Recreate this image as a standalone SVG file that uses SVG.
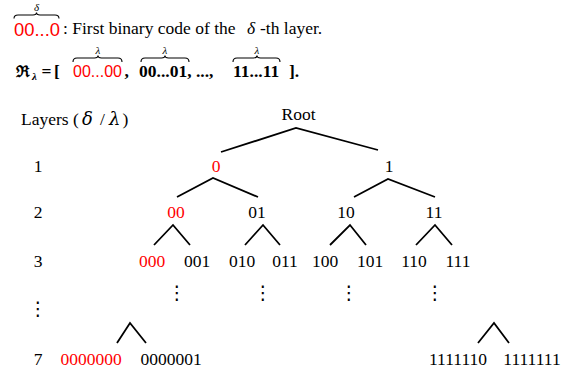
<svg xmlns="http://www.w3.org/2000/svg" width="571" height="372" viewBox="0 0 571 372">
  <style>
    .t { font-family: "Liberation Serif", "Times New Roman", serif; font-size: 17.5px; fill: #000; }
    .c { text-anchor: middle; }
    .red { fill: #ff0000; }
    .sans { font-family: "Liberation Sans", Arial, sans-serif; }
    .it { font-style: italic; }
    .b { font-weight: bold; }
    .sup { font-size: 11px; font-style: italic; text-anchor: middle; }
    .greek { font-family: "DejaVu Serif", serif; font-style: italic; font-size: 18px; }
    .dots { font-family: "DejaVu Sans", sans-serif; font-size: 19px; text-anchor: middle; fill: #000; }
    .edge { fill: none; stroke: #000; stroke-width: 1.8; stroke-linejoin: miter; }
    .brace { fill: none; stroke: #000; stroke-width: 1.1; }
  </style>

  <!-- legend: first code of a layer -->
  <g id="legend-first-code">
    <path class="brace" d="M14,18.5 Q14,15 18,15 L33,15 Q36.5,15 36.5,12.5 Q36.5,15 40,15 L55,15 Q59,15 59,18.5"/>
    <text class="t sup" x="36.5" y="10.5">δ</text>
    <text class="t sans red" x="14" y="36" style="font-size:18px" textLength="46" lengthAdjust="spacingAndGlyphs">00...0</text>
    <text class="t" x="63" y="34">: First binary code of the</text>
    <text class="t it" x="247" y="34">δ</text>
    <text class="t" x="260" y="34">-th layer.</text>
  </g>

  <!-- legend: code set of a layer -->
  <g id="legend-code-set">
    <text class="t b" x="16" y="76.5" style="font-family:'DejaVu Serif', serif; font-size:16px">ℜ</text>
    <text class="t it b" x="32" y="80" style="font-size:11px">λ</text>
    <text class="t b" x="41.5" y="76.5">=</text>
    <text class="t b" x="54" y="76.5">[</text>
    <path class="brace" d="M73,62 Q73,58 77,58 L94.5,58 Q98,58 98,55.5 Q98,58 101.5,58 L118,58 Q122,58 122,62"/>
    <text class="t sup" x="98" y="54">λ</text>
    <text class="t sans red" x="73" y="76.5" style="font-size:16.5px" textLength="49" lengthAdjust="spacingAndGlyphs">00...00</text>
    <text class="t b" x="124.5" y="76.5">,</text>
    <path class="brace" d="M141,62 Q141,58 145,58 L161.5,58 Q165,58 165,55.5 Q165,58 168.5,58 L185,58 Q189,58 189,62"/>
    <text class="t sup" x="165" y="54">λ</text>
    <text class="t b" x="139" y="76.5">00...01, ..., </text>
    <path class="brace" d="M233,62 Q233,58 237,58 L253.5,58 Q257,58 257,55.5 Q257,58 260.5,58 L276,58 Q280,58 280,62"/>
    <text class="t sup" x="257" y="54">λ</text>
    <text class="t b" x="233" y="76.5">11...11</text>
    <text class="t b" x="289" y="76.5">].</text>
  </g>

  <!-- layer index column -->
  <g id="layer-axis">
    <text class="t" x="21" y="125">Layers (</text>
    <text class="greek" x="82" y="125">δ</text>
    <text class="t" x="100" y="125">/</text>
    <text class="greek" x="109" y="125">λ</text>
    <text class="t" x="122.5" y="125">)</text>
    <text class="t c" x="38" y="172">1</text>
    <text class="t c" x="38" y="218">2</text>
    <text class="t c" x="38" y="267">3</text>
    <text class="dots" x="38" y="315">⋮</text>
    <text class="t c" x="38" y="365">7</text>
  </g>

  <!-- tree edges -->
  <g id="connectors">
    <polyline class="edge" points="221,152 296,128 378,150"/>
    <polyline class="edge" points="177,197 213,178 258,197"/>
    <polyline class="edge" points="354,197 388,179 435,197"/>
    <polyline class="edge" points="154,245 173,225 190,245"/>
    <polyline class="edge" points="245,245 263,225 280,245"/>
    <polyline class="edge" points="330,245 350,225 366,245"/>
    <polyline class="edge" points="416,245 435,225 452,245"/>
    <polyline class="edge" points="117,343 130,323 146,343"/>
    <polyline class="edge" points="478,343 494,323 509,343"/>
  </g>

  <!-- tree nodes -->
  <g id="node-root"><text class="t c" x="298.5" y="120">Root</text></g>
  <g id="node-0"><text class="t c red" x="216" y="172">0</text></g>
  <g id="node-1"><text class="t c" x="389" y="172">1</text></g>
  <g id="node-00"><text class="t c red" x="176" y="218">00</text></g>
  <g id="node-01"><text class="t c" x="257" y="218">01</text></g>
  <g id="node-10"><text class="t c" x="346" y="218">10</text></g>
  <g id="node-11"><text class="t c" x="434" y="218">11</text></g>
  <g id="node-000"><text class="t c red" x="152" y="267">000</text></g>
  <g id="node-001"><text class="t c" x="197" y="267">001</text></g>
  <g id="node-010"><text class="t c" x="242" y="267">010</text></g>
  <g id="node-011"><text class="t c" x="285" y="267">011</text></g>
  <g id="node-100"><text class="t c" x="325" y="267">100</text></g>
  <g id="node-101"><text class="t c" x="370" y="267">101</text></g>
  <g id="node-110"><text class="t c" x="414" y="267">110</text></g>
  <g id="node-111"><text class="t c" x="458" y="267">111</text></g>
  <g id="ellipsis-3">
    <text class="dots" x="177" y="299">⋮</text>
    <text class="dots" x="263" y="299">⋮</text>
    <text class="dots" x="349" y="299">⋮</text>
    <text class="dots" x="435" y="299">⋮</text>
  </g>
  <g id="node-0000000"><text class="t c red" x="91" y="365">0000000</text></g>
  <g id="node-0000001"><text class="t c" x="171" y="365">0000001</text></g>
  <g id="node-1111110"><text class="t c" x="458" y="365">1111110</text></g>
  <g id="node-1111111"><text class="t c" x="532" y="365">1111111</text></g>
</svg>
